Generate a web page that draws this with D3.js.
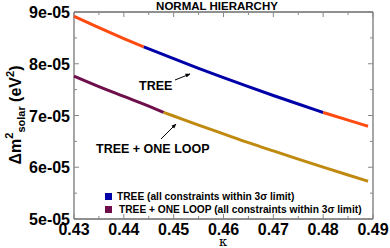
<!DOCTYPE html>
<html>
<head>
<meta charset="utf-8">
<script src="https://cdn.jsdelivr.net/npm/d3@7"></script>
<style>
  body { margin: 0; background: #fff; }
  text { font-family: "Liberation Sans", Arial, sans-serif; font-weight: bold; }
</style>
</head>
<body>
<svg id="viz"></svg>
<script>
var width = 390;
var height = 248;

// kappa values and delta m^2 (eV^2)
var treeKappa = [0.43, 0.435, 0.44, 0.444, 0.45, 0.455, 0.46, 0.465, 0.47, 0.475, 0.48, 0.485, 0.489];
var treeDm2 = [8.917e-5, 8.697e-5, 8.487e-5, 8.327e-5, 8.097e-5, 7.912e-5, 7.732e-5, 7.557e-5, 7.387e-5, 7.222e-5, 7.058e-5, 6.91e-5, 6.792e-5];
var loopKappa = [0.43, 0.435, 0.44, 0.445, 0.448, 0.45, 0.455, 0.46, 0.465, 0.47, 0.475, 0.48, 0.485, 0.489];
var loopDm2 = [7.763e-5, 7.56e-5, 7.37e-5, 7.18e-5, 7.06e-5, 6.99e-5, 6.815e-5, 6.645e-5, 6.475e-5, 6.315e-5, 6.158e-5, 6.003e-5, 5.85e-5, 5.73e-5];

// coloured pieces of each curve: [from kappa, to kappa, colour]
var treePieces = [[0.43, 0.444, "#ff4a10"], [0.444, 0.48, "#0000a8"], [0.48, 0.489, "#ff4a10"]];
var loopPieces = [[0.43, 0.448, "#6e0f4c"], [0.448, 0.489, "#c08a10"]];

var xTicks = [0.43, 0.44, 0.45, 0.46, 0.47, 0.48, 0.49];
var yTicks = [5e-5, 6e-5, 7e-5, 8e-5, 9e-5];
var yLabels = ["5e-05", "6e-05", "7e-05", "8e-05", "9e-05"];

var legendNames = ["TREE (all constraints within 3\u03c3 limit)", "TREE + ONE LOOP (all constraints within 3\u03c3 limit)"];
var legendColors = ["#0000a8", "#6e0f4c"];

var pLeft = 74, pRight = 373, pTop = 12, pBottom = 219;

var svg = d3.select("#viz").attr("width", width).attr("height", height);

var x = d3.scaleLinear().domain([0.43, 0.49]).range([pLeft, pRight]);
var y = d3.scaleLinear().domain([5e-5, 9e-5]).range([pBottom, pTop]);

// minor ticks every half step
var xMinor = d3.range(0.435, 0.49, 0.01);
var yMinor = d3.range(5.5e-5, 9e-5, 1e-5);

var axisCol = "#888";

// frame
svg.append("line").attr("x1", pLeft).attr("x2", pLeft).attr("y1", pTop).attr("y2", pBottom)
  .attr("stroke", axisCol).attr("stroke-width", 1.5);
svg.append("line").attr("x1", pRight).attr("x2", pRight).attr("y1", pTop).attr("y2", pBottom)
  .attr("stroke", axisCol).attr("stroke-width", 1.5);
svg.append("line").attr("x1", pLeft).attr("x2", pRight).attr("y1", pTop).attr("y2", pTop)
  .attr("stroke", "#222").attr("stroke-width", 1.2);
svg.append("line").attr("x1", pLeft).attr("x2", pRight).attr("y1", pBottom).attr("y2", pBottom)
  .attr("stroke", "#222").attr("stroke-width", 1.2);

// ticks pointing inward
var ticks = svg.append("g").attr("stroke", axisCol).attr("stroke-width", 1);
xTicks.forEach(function(t) {
  ticks.append("line").attr("x1", x(t)).attr("x2", x(t)).attr("y1", pBottom).attr("y2", pBottom - 5);
  ticks.append("line").attr("x1", x(t)).attr("x2", x(t)).attr("y1", pTop).attr("y2", pTop + 5);
});
xMinor.forEach(function(t) {
  ticks.append("line").attr("x1", x(t)).attr("x2", x(t)).attr("y1", pBottom).attr("y2", pBottom - 3);
  ticks.append("line").attr("x1", x(t)).attr("x2", x(t)).attr("y1", pTop).attr("y2", pTop + 3);
});
yTicks.forEach(function(t) {
  ticks.append("line").attr("x1", pLeft).attr("x2", pLeft + 5).attr("y1", y(t)).attr("y2", y(t));
  ticks.append("line").attr("x1", pRight).attr("x2", pRight - 5).attr("y1", y(t)).attr("y2", y(t));
});
yMinor.forEach(function(t) {
  ticks.append("line").attr("x1", pLeft).attr("x2", pLeft + 3).attr("y1", y(t)).attr("y2", y(t));
  ticks.append("line").attr("x1", pRight).attr("x2", pRight - 3).attr("y1", y(t)).attr("y2", y(t));
});

// tick labels
svg.append("g").selectAll("text").data(xTicks).enter().append("text")
  .attr("x", function(d) { return x(d); })
  .attr("y", 235)
  .attr("text-anchor", "middle")
  .style("font-size", "16px")
  .text(function(d) { return d.toFixed(2); });

svg.append("g").selectAll("text").data(yTicks).enter().append("text")
  .attr("x", 70)
  .attr("y", function(d) { return y(d) + 6; })
  .attr("text-anchor", "end")
  .style("font-size", "16px")
  .text(function(d, i) { return yLabels[i]; });

// curves
var line = d3.line()
  .x(function(d) { return x(d[0]); })
  .y(function(d) { return y(d[1]); })
  .curve(d3.curveMonotoneX);

function drawCurve(ks, vs, pieces) {
  var pts = ks.map(function(k, i) { return [k, vs[i]]; });
  pieces.forEach(function(p) {
    var seg = pts.filter(function(d) { return d[0] >= p[0] - 1e-9 && d[0] <= p[1] + 1e-9; });
    svg.append("path").datum(seg)
      .attr("d", line)
      .attr("fill", "none")
      .attr("stroke", p[2])
      .attr("stroke-width", 3);
  });
}
drawCurve(treeKappa, treeDm2, treePieces);
drawCurve(loopKappa, loopDm2, loopPieces);

// title
svg.append("text").attr("x", 217).attr("y", 10).attr("text-anchor", "middle")
  .style("font-size", "11.5px").text("NORMAL HIERARCHY");

// axis titles
var yt = svg.append("text")
  .attr("transform", "translate(21,115) rotate(-90)")
  .attr("text-anchor", "middle")
  .style("font-size", "16px");
yt.append("tspan").text("\u0394m");
yt.append("tspan").attr("dy", -8).style("font-size", "11px").text("2");
yt.append("tspan").attr("dy", 12).style("font-size", "11px").text("solar");
yt.append("tspan").attr("dy", -4).text(" (eV");
yt.append("tspan").attr("dy", -7).style("font-size", "11px").text("2");
yt.append("tspan").attr("dy", 7).text(")");

svg.append("text").attr("x", 223).attr("y", 246).attr("text-anchor", "middle")
  .style("font-family", "'DejaVu Serif', serif").style("font-weight", "normal")
  .style("font-size", "13px").text("\u03ba");

// annotations
var defs = svg.append("defs");
defs.append("marker").attr("id", "ah").attr("viewBox", "0 0 10 10")
  .attr("refX", 9).attr("refY", 5).attr("markerWidth", 5).attr("markerHeight", 5)
  .attr("orient", "auto")
  .append("path").attr("d", "M0,1 L10,5 L0,9 z").attr("fill", "#000");

svg.append("text").attr("x", 139).attr("y", 90).style("font-size", "12.5px").text("TREE");
svg.append("line").attr("x1", 175).attr("y1", 80).attr("x2", 190).attr("y2", 74)
  .attr("stroke", "#000").attr("stroke-width", 1).attr("marker-end", "url(#ah)");

svg.append("text").attr("x", 96).attr("y", 153).style("font-size", "12.5px").text("TREE + ONE LOOP");
svg.append("line").attr("x1", 161).attr("y1", 139).attr("x2", 176).attr("y2", 124)
  .attr("stroke", "#000").attr("stroke-width", 1).attr("marker-end", "url(#ah)");

// legend
var lg = svg.append("g");
legendNames.forEach(function(name, i) {
  lg.append("rect").attr("x", 105).attr("y", 193 + i * 13).attr("width", 7).attr("height", 7)
    .attr("fill", legendColors[i]);
  lg.append("text").attr("x", 117 + i * 2).attr("y", 200 + i * 13)
    .style("font-size", "10.2px").text(name);
});
</script>
</body>
</html>
